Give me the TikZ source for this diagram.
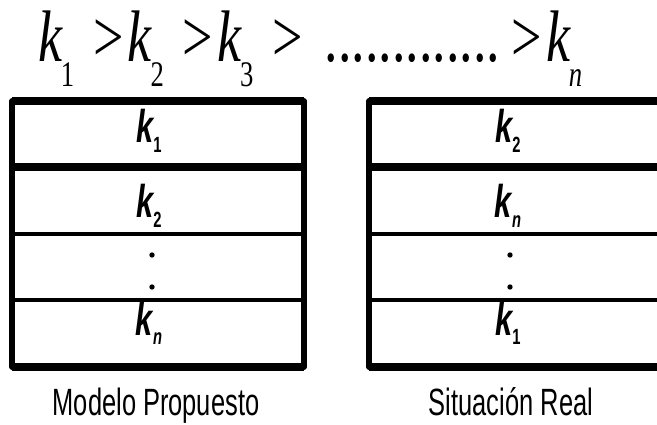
\documentclass[tikz,border=0pt]{standalone}
\usepackage{fontspec}
\usetikzlibrary{positioning}
\newfontfamily\serfont[FakeStretch=0.74]{Liberation Serif}
\newfontfamily\narrowfont[FakeStretch=0.67]{Liberation Sans}
\newcommand{\ksub}[1]{\textit{k}\kern-.03em\raisebox{-0.33em}{\fontsize{36}{36}\selectfont #1}}
\newcommand{\kcell}[1]{\textbf{\textit{k}}\kern-0.03em\raisebox{-0.2em}{\fontsize{22}{22}\selectfont\bfseries #1}}

\begin{document}
\begin{tikzpicture}
	[x=1pt,y=-1pt,
	thin row/.style={line width=3.5pt},
	thick row/.style={line width=7.5pt},
	box side/.style={line width=5.5pt,line join=round},
	cell node/.style={inner sep=0pt,anchor=base,font=\narrowfont\fontsize{46}{46}\selectfont},
	caption node/.style={inner sep=0pt,anchor=base,font=\narrowfont\fontsize{38}{38}\selectfont}]
	\useasboundingbox (0,0) rectangle (657,425);
	
	% ordering
	\node [inner sep=0pt,anchor=base west,font=\serfont\fontsize{73}{73}\selectfont] (0) at (38,62)
	{\ksub{1}\hspace{.26em}>\hspace{.06em}\ksub{2}\hspace{.26em}>\hspace{.06em}\ksub{3}\hspace{.26em}>\hspace{.3em}.............\hspace{.15em}>\hspace{.06em}\ksub{\textit{n}}};
	
	% left box
	\draw [box side] (12,101) rectangle (304,367);
	\draw [thick row] (12,101) -- (304,101);
	\draw [thick row] (12,167) -- (304,167);
	\draw [thin row] (12,234) -- (304,234);
	\draw [thin row] (12,300) -- (304,300);
	\draw [thick row] (12,367) -- (304,367);
	
	\node [cell node] (1) at (149,143) {\kcell{1}};
	\node [cell node] (2) at (149,218) {\kcell{2}};
	\fill (152,255) circle (2.7) (152,287) circle (2.7);
	\node [cell node] (4) at (149,335) {\kcell{\textit{n}}};
	
	% right box
	\draw [box side] (680,101) -- (369,101) -- (369,367) -- (680,367);
	\draw [thick row] (369,101) -- (680,101);
	\draw [thick row] (369,167) -- (680,167);
	\draw [thin row] (369,234) -- (680,234);
	\draw [thin row] (369,300) -- (680,300);
	\draw [thick row] (369,367) -- (680,367);
	
	\node [cell node] (5) at (508,143) {\kcell{2}};
	\node [cell node] (6) at (508,218) {\kcell{\textit{n}}};
	\fill (510,255) circle (2.7) (510,287) circle (2.7);
	\node [cell node] (8) at (508,335) {\kcell{1}};
	
	\node [caption node] (9) at (156,415) {Modelo Propuesto};
	\node [caption node] (10) at (511,415) {Situación Real};
	
\end{tikzpicture}
\end{document}
